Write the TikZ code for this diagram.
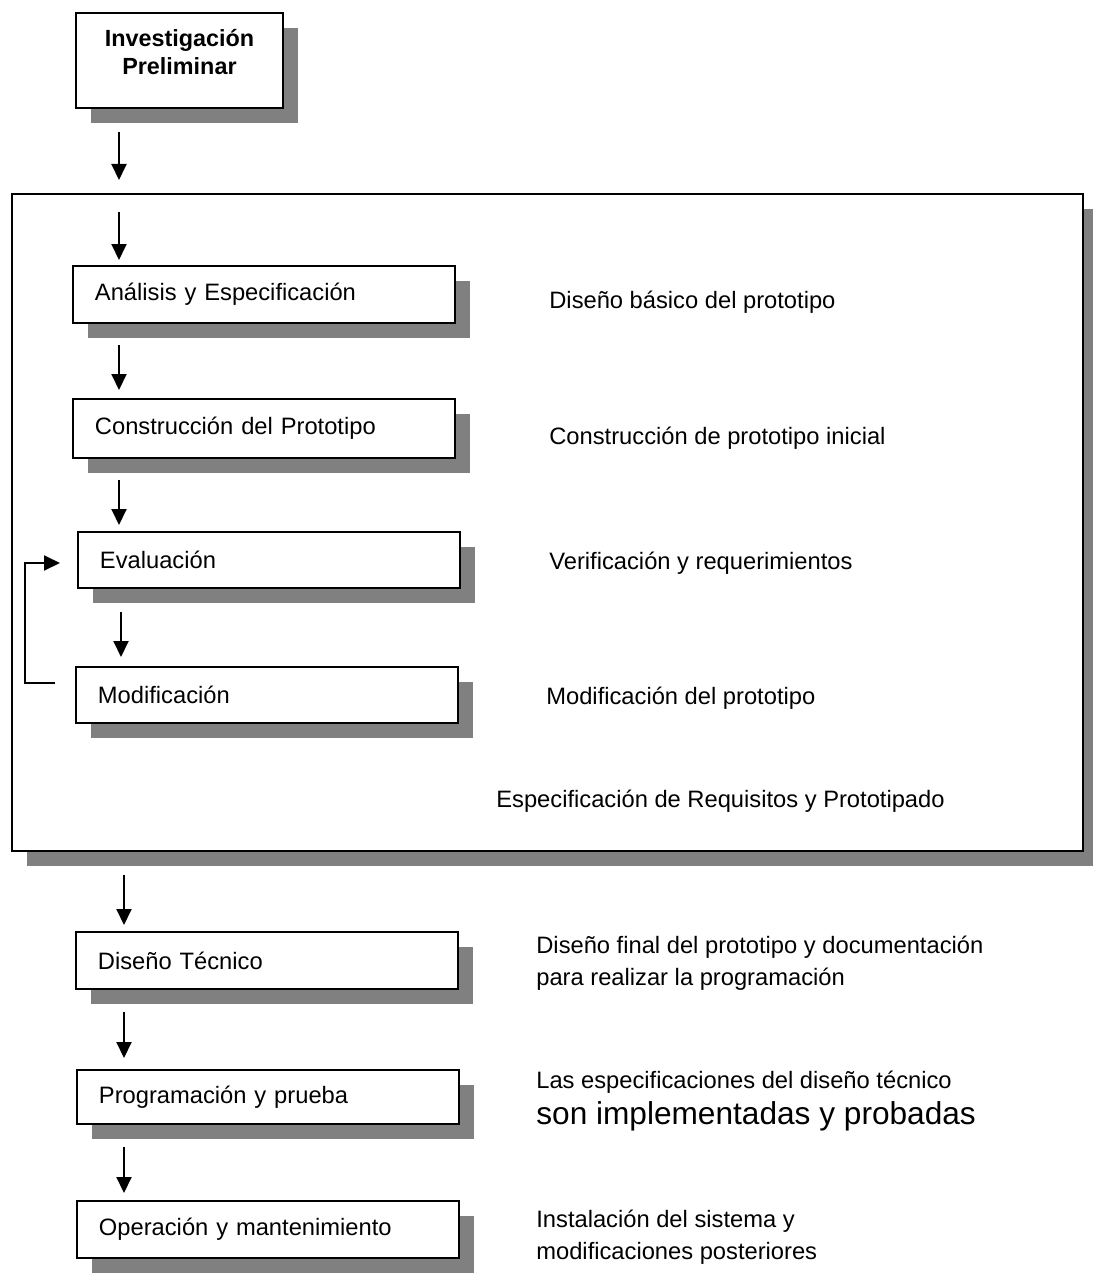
\documentclass[tikz,border=0pt]{standalone}
\usepackage{fontspec}
\setmainfont{Liberation Sans}
\usetikzlibrary{positioning,shadows,arrows.meta}
\tikzset{
  stage/.style={draw, fill=white, line width=1.1pt, anchor=north west,
    inner xsep=0.44cm, text width=6.76cm, align=left, minimum height=1.14cm,
    font=\fontsize{13.5}{16}\selectfont,
    general shadow={fill=black!50, shadow xshift=0.3cm, shadow yshift=-0.3cm}},
  note/.style={anchor=west, align=left, inner sep=0pt, font=\fontsize{13.5}{18}\selectfont},
  flow/.style={line width=1.1pt, -{Triangle[width=0.3cm,length=0.32cm]}}
}

\begin{document}
\begin{tikzpicture}[x=0.02cm, y=-0.02cm]
  \useasboundingbox (0,0) rectangle (1092,1273);

  % Preliminary phase
  \node[stage, align=center, text width=3.26cm, minimum height=1.9cm, text depth=0.92cm,
    font=\fontsize{13.3}{16.4}\selectfont\bfseries] (inv) at (75,12) {Investigación\\Preliminar};

  % Requirements and prototyping frame
  \node[stage, minimum width=21.42cm, minimum height=13.14cm, text width={}, inner sep=0pt] (frame) at (11,193) {};

  \node[stage] (ana) at (72,265) {Análisis y Especificación};
  \node[stage, minimum height=1.18cm] (con) at (72,398) {Construcción del Prototipo};
  \node[stage, minimum height=1.12cm] (eva) at (77,531) {Evaluación};
  \node[stage, minimum height=1.12cm] (mod) at (75,666) {Modificación};

  \node[note] (ana-note) at (549,302) {Diseño básico del prototipo};
  \node[note] (con-note) at (549,438) {Construcción de prototipo inicial};
  \node[note] (eva-note) at (549,563) {Verificación y requerimientos};
  \node[note] (mod-note) at (546,698) {Modificación del prototipo};
  \node[note] (frame-note) at (496,801) {Especificación de Requisitos y Prototipado};

  % Later phases
  \node[stage] (dis) at (75,931) {Diseño Técnico};
  \node[stage, minimum height=1.08cm] (pro) at (76,1069) {Programación y prueba};
  \node[stage] (ope) at (76,1200) {Operación y mantenimiento};

  \node[note] (dis-note) at (536,963) {Diseño final del prototipo y documentación\\para realizar la programación};
  \node[note] (pro-note) at (536,1101) {Las especificaciones del diseño técnico\\[2.5pt]{\fontsize{18}{20}\selectfont son implementadas y probadas}};
  \node[note] (ope-note) at (536,1237) {Instalación del sistema y\\modificaciones posteriores};

  % Flow
  \draw[flow] ([shift={(44,23)}]inv.south west) -- ([shift={(108,-13)}]frame.north west);
  \draw[flow] ([shift={(108,19)}]frame.north west) -- ([shift={(47,-5)}]ana.north west);
  \draw[flow] ([shift={(47,21)}]ana.south west) -- ([shift={(47,-8)}]con.north west);
  \draw[flow] ([shift={(47,21)}]con.south west) -- ([shift={(42,-6)}]eva.north west);
  \draw[flow] ([shift={(44,23)}]eva.south west) -- ([shift={(46,-9)}]mod.north west);
  \draw[flow] ([shift={(-20,17)}]mod.north west) -- ++(-30,0) |- ([shift={(-17,32)}]eva.north west);
  \draw[flow] ([shift={(113,23)}]frame.south west) -- ([shift={(49,-6)}]dis.north west);
  \draw[flow] ([shift={(49,22)}]dis.south west) -- ([shift={(48,-11)}]pro.north west);
  \draw[flow] ([shift={(48,22)}]pro.south west) -- ([shift={(48,-7)}]ope.north west);
\end{tikzpicture}
\end{document}
